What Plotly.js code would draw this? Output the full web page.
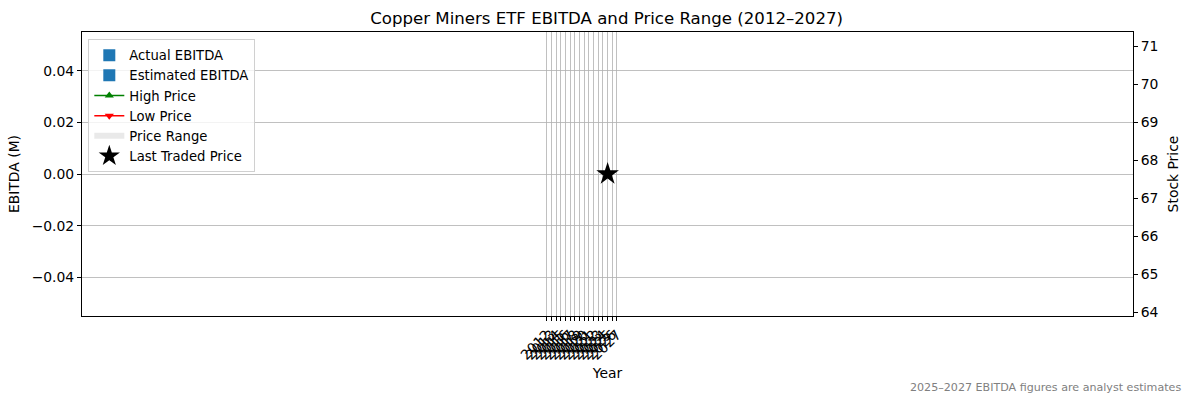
<!DOCTYPE html>
<html>
<head>
<meta charset="utf-8">
<script src="https://cdn.plot.ly/plotly-3.0.1.min.js"></script>
<style>
  html, body { margin: 0; padding: 0; background: #fff; }
  #chart { width: 1193px; height: 403px; }
</style>
</head>
<body>
<div id="chart"></div>
<script>
// years on the x axis
const years = [2012, 2013, 2014, 2015, 2016, 2017, 2018, 2019, 2020, 2021, 2022, 2023, 2024, 2025, 2026, 2027];
const yearLabels = years.map(y => String(y));

// EBITDA (M) - no figures were available, so the bars are empty
const actualEbitda = [null, null, null, null, null, null, null, null, null, null, null, null, null, null, null, null];
const estimatedEbitda = [null, null, null, null, null, null, null, null, null, null, null, null, null, null, null, null];

// yearly price high / low - empty too
const highPrice = [null, null, null, null, null, null, null, null, null, null, null, null, null, null, null, null];
const lowPrice = [null, null, null, null, null, null, null, null, null, null, null, null, null, null, null, null];

// last traded price
const lastYear = [2025];
const lastPrice = [67.64];

const font = "DejaVu Sans, Liberation Sans, Arial, sans-serif";

const traces = [
    {
        type: 'bar', name: 'Actual EBITDA', x: years, y: actualEbitda,
        marker: { color: '#1f77b4' }
    },
    {
        type: 'bar', name: 'Estimated EBITDA', x: years, y: estimatedEbitda,
        marker: { color: '#1f77b4' }
    },
    {
        type: 'scatter', mode: 'lines+markers', name: 'High Price', x: years, y: highPrice,
        yaxis: 'y2', line: { color: 'green', width: 1.5 },
        marker: { symbol: 'triangle-up', size: 8, color: 'green' }
    },
    {
        type: 'scatter', mode: 'lines+markers', name: 'Low Price', x: years, y: lowPrice,
        yaxis: 'y2', line: { color: 'red', width: 1.5 },
        marker: { symbol: 'triangle-down', size: 8, color: 'red' }
    },
    {
        type: 'scatter', mode: 'none', name: 'Price Range', x: years, y: highPrice,
        yaxis: 'y2', fill: 'toself', fillcolor: 'rgba(200,200,200,0.4)'
    },
    {
        type: 'scatter', mode: 'markers', name: 'Last Traded Price', x: lastYear, y: lastPrice,
        yaxis: 'y2', marker: { symbol: 'star', size: 17, color: 'black' }
    }
];

const layout = {
    width: 1193,
    height: 403,
    margin: { l: 82, r: 60, t: 32, b: 87 },
    paper_bgcolor: '#fff',
    plot_bgcolor: '#fff',
    font: { family: font, size: 13.9, color: '#000' },
    title: {
        text: 'Copper Miners ETF EBITDA and Price Range (2012\u20132027)',
        font: { family: font, size: 16.6, color: '#000' },
        x: 0.5085, xanchor: 'center', y: 0.955, yanchor: 'middle'
    },
    xaxis: {
        title: { text: 'Year', font: { size: 13.9 }, standoff: 6 },
        range: [1912.85, 2137.1],
        tickmode: 'array', tickvals: years, ticktext: yearLabels,
        tickangle: -45,
        showgrid: true, gridcolor: '#b0b0b0', gridwidth: 0.8,
        showline: true, linecolor: '#000', linewidth: 1, mirror: true,
        ticks: 'outside', ticklen: 4, tickcolor: '#000',
        zeroline: false, tickfont: { size: 13.9 }
    },
    yaxis: {
        title: { text: 'EBITDA (M)', font: { size: 13.9 }, standoff: 8 },
        range: [-0.055, 0.055],
        tickmode: 'array', tickvals: [-0.04, -0.02, 0, 0.02, 0.04],
        tickformat: '.2f',
        showgrid: true, gridcolor: '#b0b0b0', gridwidth: 0.8,
        showline: true, linecolor: '#000', linewidth: 1,
        ticks: 'outside', ticklen: 4, tickcolor: '#000',
        zeroline: false, tickfont: { size: 13.9 }
    },
    yaxis2: {
        title: { text: 'Stock Price', font: { size: 13.9 }, standoff: 10 },
        overlaying: 'y', side: 'right',
        range: [63.90, 71.38],
        dtick: 1, tick0: 64,
        showgrid: false,
        showline: true, linecolor: '#000', linewidth: 1,
        ticks: 'outside', ticklen: 4, tickcolor: '#000',
        zeroline: false, tickfont: { size: 13.9 }
    },
    barmode: 'group',
    showlegend: true,
    legend: {
        x: 0.006, y: 0.975, xanchor: 'left', yanchor: 'top',
        bgcolor: 'rgba(255,255,255,0.8)', bordercolor: '#d0d0d0', borderwidth: 1,
        font: { size: 13.2 }, tracegroupgap: 0, itemwidth: 30
    },
    annotations: [
        {
            text: '2025\u20132027 EBITDA figures are analyst estimates',
            xref: 'paper', yref: 'paper', x: 1.0476, y: -0.25,
            xanchor: 'right', yanchor: 'middle', showarrow: false,
            font: { size: 11.1, color: 'gray' }
        }
    ]
};

Plotly.newPlot('chart', traces, layout, { displayModeBar: false, staticPlot: true });
</script>
</body>
</html>
